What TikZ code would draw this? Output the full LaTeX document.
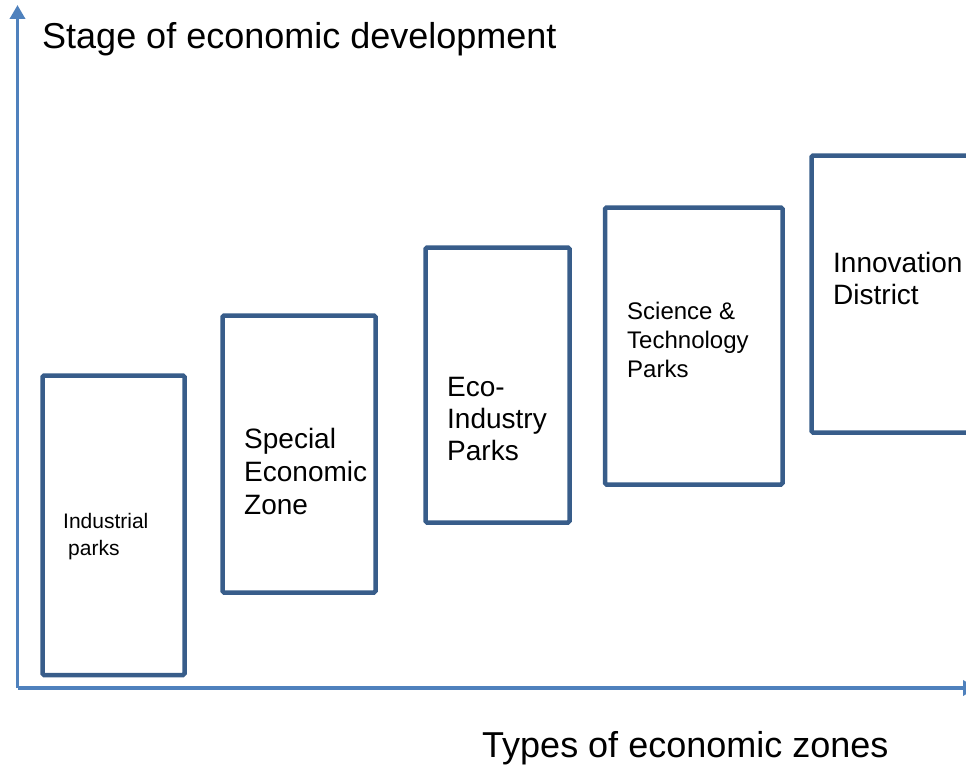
\documentclass[tikz,border=0pt]{standalone}
\usepackage{fontspec}
\setmainfont{Liberation Sans}
\usetikzlibrary{arrows.meta}

\definecolor{axisblue}{HTML}{4F81BD}
\definecolor{zoneblue}{HTML}{385D8A}

\begin{document}
\begin{tikzpicture}[x=1pt, y=-1pt,
    axis/.style = {axisblue, line width=3.5pt, -{Triangle[width=15pt,length=14pt]}},
    zone/.style = {zoneblue, line width=4.5pt, rounded corners=1.5pt},
    lbl/.style = {anchor=base west, inner sep=0pt, align=left},
    big/.style = {font=\fontsize{28}{32}\selectfont},
    title/.style = {font=\fontsize{36}{40}\selectfont}]
\useasboundingbox (0,0) rectangle (966,765);
\clip (0,0) rectangle (966,765);

% axes
\coordinate (origin) at (17.5,688);
\coordinate (ytip) at (17.5,5);
\coordinate (xtip) at (977,688);
\draw[axis] (origin) -- (ytip);
\draw[axis] (origin) -- (xtip);

\node[lbl, title] (ylab) at (42,49) {Stage of economic development};
\node[lbl, title] (xlab) at (482,757) {Types of economic zones};

% zones, from left to right
\draw[zone] (42.5,375.5) rectangle (184.5,675);
\draw[zone] (222.5,315.5) rectangle (375.5,592.5);
\draw[zone] (425.5,247.5) rectangle (569.5,522.5);
\draw[zone] (605,207.5) rectangle (782.5,484.5);
\draw[zone] (811.5,155.5) rectangle (1000,432.5);

% labels sit on the baseline of their last line
\node[lbl, font=\fontsize{21}{27}\selectfont] (ind) at (63,555) {Industrial\\\hspace{5pt}parks};
\node[lbl, font=\fontsize{28}{33}\selectfont] (sez) at (244,514) {Special\\Economic\\Zone};
\node[lbl, big] (eco) at (447,460) {Eco-\\Industry\\Parks};
\node[lbl, font=\fontsize{24}{29}\selectfont] (sci) at (627,377) {Science \&\\Technology\\Parks};
\node[lbl, big] (inn) at (833,304) {Innovation\\District};
\end{tikzpicture}
\end{document}
